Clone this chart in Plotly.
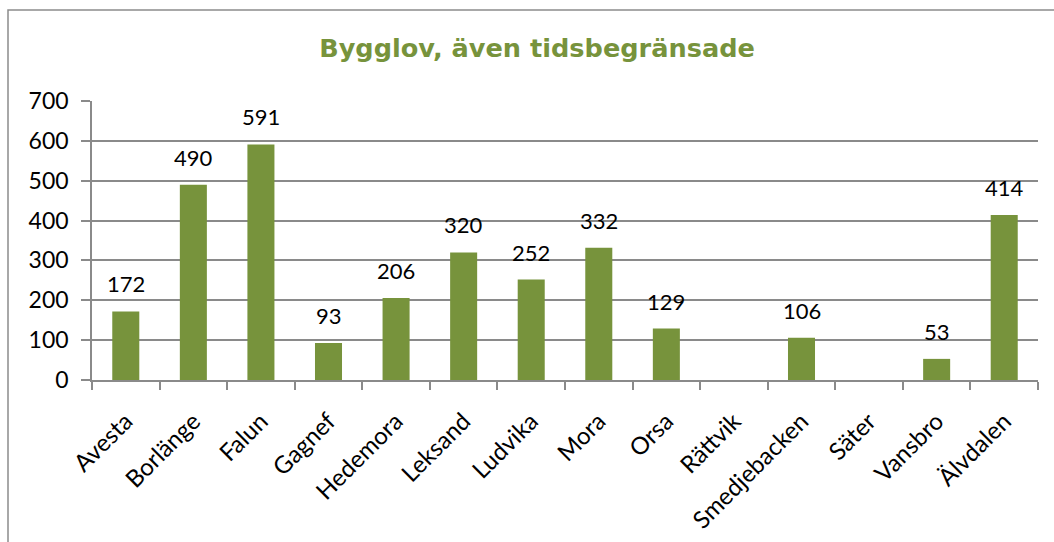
import plotly.graph_objects as go

categories = ["Avesta", "Borlänge", "Falun", "Gagnef", "Hedemora", "Leksand", "Ludvika",
              "Mora", "Orsa", "Rättvik", "Smedjebacken", "Säter", "Vansbro", "Älvdalen"]
values = [172, 490, 591, 93, 206, 320, 252, 332, 129, None, 106, None, 53, 414]
title_text = "Bygglov, även tidsbegränsade"

W, H = 1054, 542
L, R, T, B = 92, 16, 101, 162
pw, ph = W - L - R, H - T - B
FONT = "Lato, Open Sans, sans-serif"

fig = go.Figure(go.Bar(
    x=categories, y=values,
    marker=dict(color="#77933C", line=dict(width=0)),
    hoverinfo="x+y",
))

for c, v in zip(categories, values):
    if v is None:
        continue
    fig.add_annotation(x=c, y=v, text=str(v), showarrow=False, xanchor="center",
                       yanchor="bottom", yshift=12,
                       font=dict(family=FONT, size=22, color="#000000"))

def px_x(p):
    return (p - L) / pw

def px_y(p):
    return (H - B - p) / ph

fig.update_layout(
    width=W, height=H,
    margin=dict(l=L, r=R, t=T, b=B, autoexpand=False),
    paper_bgcolor="white", plot_bgcolor="white",
    showlegend=False,
    bargap=0.6,
    title=dict(text="<b>" + title_text + "</b>", x=537 / W, xanchor="center",
               y=1 - 48 / H, yanchor="middle",
               font=dict(family="DejaVu Sans, sans-serif", size=25.6, color="#77933C")),
    font=dict(family=FONT, size=22, color="#000000"),
    shapes=[dict(type="rect", xref="paper", yref="paper",
                 x0=px_x(8), x1=px_x(1070), y0=px_y(560), y1=px_y(10),
                 line=dict(color="#8C8C8C", width=1.5), fillcolor="rgba(0,0,0,0)", layer="below")],
)
fig.update_yaxes(range=[0, 700], dtick=100, showgrid=True, gridcolor="#8A8A8A", gridwidth=1.5,
                 showline=True, linecolor="#8A8A8A", linewidth=1.5,
                 ticks="outside", ticklen=9, tickcolor="#8A8A8A", tickwidth=1.5,
                 tickfont=dict(size=23), zeroline=False, fixedrange=True, automargin=False,
                 ticklabelstandoff=8)
fig.update_xaxes(showline=True, linecolor="#8A8A8A", linewidth=1.5,
                 ticks="outside", tickson="boundaries", ticklen=8, tickcolor="#8A8A8A", tickwidth=1.5,
                 tickangle=-45, tickfont=dict(size=24), showgrid=False, fixedrange=True,
                 automargin=False, ticklabelstandoff=16)

fig.write_html("out.html", config={"displayModeBar": False},
               post_script="document.body.style.margin='0px';document.body.style.overflow='hidden';")
